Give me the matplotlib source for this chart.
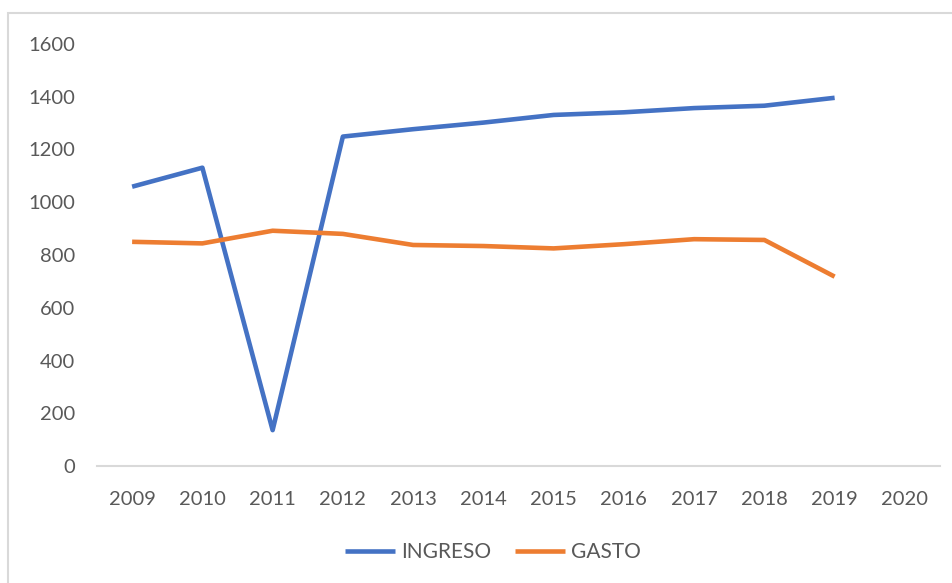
import matplotlib.pyplot as plt
from matplotlib.patches import Rectangle

# Data
years = ['2009', '2010', '2011', '2012', '2013', '2014', '2015', '2016',
         '2017', '2018', '2019', '2020']
ingreso = [1059, 1131, 136, 1249, 1277, 1302, 1331, 1341, 1357, 1366, 1396]
gasto = [850, 844, 892, 880, 838, 834, 825, 841, 860, 857, 718]

plt.rcParams['font.family'] = ['Lato', 'DejaVu Sans']

fig = plt.figure(figsize=(9.53, 5.83), dpi=100)
ax = fig.add_axes([97 / 953, 1 - 466 / 583, (940 - 97) / 953, (466 - 44) / 583])

# chart border (frame of the chart area)
fig.patches.append(Rectangle((8 / 953, -0.1), 1.2, 1 - 13 / 583 + 0.1,
                             transform=fig.transFigure, fill=False,
                             edgecolor='#d9d9d9', linewidth=1.5))

x = list(range(len(years)))
ax.plot(x[:len(ingreso)], ingreso, color='#4472c4', linewidth=3.3,
        label='INGRESO', solid_joinstyle='round', solid_capstyle='butt')
ax.plot(x[:len(gasto)], gasto, color='#ed7d31', linewidth=3.3,
        label='GASTO', solid_joinstyle='round', solid_capstyle='butt')

ax.set_xlim(-0.5, len(years) - 0.5)
ax.set_ylim(0, 1600)
ax.set_xticks(x)
ax.set_xticklabels(years)
ax.set_yticks(range(0, 1601, 200))

for s in ['top', 'right', 'left']:
    ax.spines[s].set_visible(False)
ax.spines['bottom'].set_color('#d9d9d9')
ax.spines['bottom'].set_linewidth(1.5)
ax.tick_params(length=0, labelsize=14.5, colors='#595959')
ax.tick_params(axis='x', pad=18)
ax.tick_params(axis='y', pad=16)

leg = fig.legend(loc='center', bbox_to_anchor=(493 / 953, 1 - 552 / 583), ncol=2,
                 frameon=False, fontsize=15, handlelength=2.4,
                 columnspacing=1.1, handletextpad=0.3)
for t in leg.get_texts():
    t.set_color('#595959')

fig.savefig('out.png', dpi=100)
